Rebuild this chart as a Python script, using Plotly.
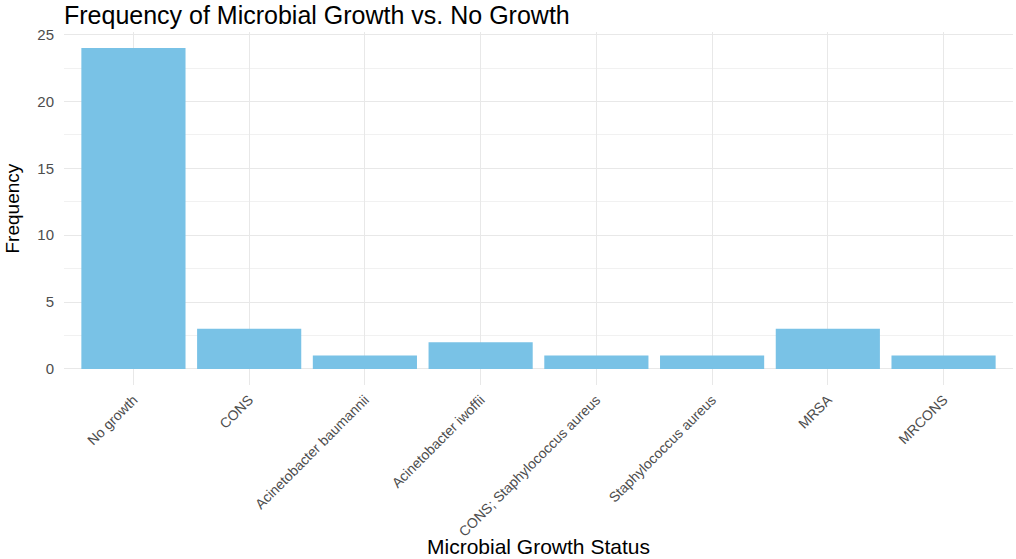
import plotly.graph_objects as go

categories = ["No growth", "CONS", "Acinetobacter baumannii", "Acinetobacter iwoffii",
              "CONS; Staphylococcus aureus", "Staphylococcus aureus", "MRSA", "MRCONS"]
frequency = [24, 3, 1, 2, 1, 1, 3, 1]
y_ticks = [0, 5, 10, 15, 20, 25]

FONT = "Liberation Sans, Arial, sans-serif"
W, H = 1016, 559
ML, MR, MT, MB = 64, 3, 32, 174

fig = go.Figure(go.Bar(x=categories, y=frequency, marker=dict(color="#79C2E6", line=dict(width=0))))

fig.update_layout(
    width=W, height=H,
    margin=dict(l=ML, r=MR, t=MT, b=MB, autoexpand=False),
    paper_bgcolor="white", plot_bgcolor="white",
    bargap=0.1,
    showlegend=False,
    font=dict(family=FONT, color="#4D4D4D"),
    title=dict(text="Frequency of Microbial Growth vs. No Growth",
               font=dict(family=FONT, size=25, color="black"),
               xref="container", x=64 / W, xanchor="left",
               yref="container", y=1 - 15 / H, yanchor="middle"),
)

fig.update_xaxes(
    type="category", range=[-0.6, len(categories) - 0.4],
    showgrid=True, gridcolor="#E8E8E8", gridwidth=1.4,
    zeroline=False, showline=False, ticks="",
    tickangle=-45, tickfont=dict(family=FONT, size=14, color="#4D4D4D"),
    ticklabelstandoff=3,
)
fig.update_yaxes(
    range=[-1.2, 25.2], tickvals=y_ticks,
    showgrid=True, gridcolor="#E8E8E8", gridwidth=1.4,
    minor=dict(dtick=2.5, tick0=0, showgrid=True, gridcolor="#F1F1F1", gridwidth=1),
    zeroline=False, showline=False, ticks="",
    tickfont=dict(family=FONT, size=15, color="#4D4D4D"),
    ticklabelstandoff=9,
)

fig.add_annotation(text="Microbial Growth Status", xref="paper", yref="paper",
                   x=0.5, y=0, yshift=-161, xanchor="center", yanchor="middle",
                   showarrow=False, font=dict(family=FONT, size=21, color="black"))
fig.add_annotation(text="Frequency", xref="paper", yref="paper",
                   x=0, y=0.5, xshift=-52, xanchor="center", yanchor="middle",
                   textangle=-90, showarrow=False,
                   font=dict(family=FONT, size=19, color="black"))

fig.write_html("out.html", config={"displayModeBar": False},
               post_script="document.body.style.margin='0';")
